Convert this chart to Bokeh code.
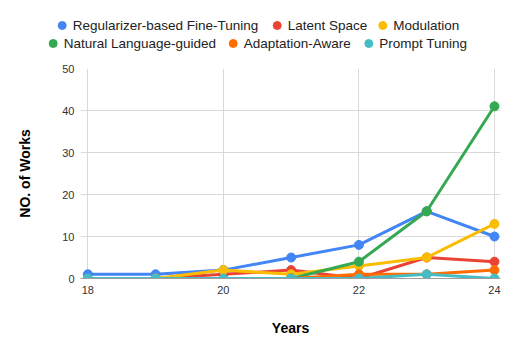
import numpy as np
from bokeh.plotting import figure
from bokeh.models import FixedTicker, Range1d
from bokeh.core.properties import value
from bokeh.layouts import column
from bokeh.embed import file_html
from bokeh.resources import INLINE

years = [18, 19, 20, 21, 22, 23, 24]
series_names = ["Regularizer-based Fine-Tuning", "Latent Space", "Modulation",
                "Natural Language-guided", "Adaptation-Aware", "Prompt Tuning"]
regularizer = [1, 1, 2, 5, 8, 16, 10]
latent = [np.nan, 0, 1, 2, 0, 5, 4]
modulation = [np.nan, 0, 2, 1, 3, 5, 13]
natural = [np.nan, np.nan, np.nan, 0, 4, 16, 41]
adaptation = [np.nan, np.nan, np.nan, 0, 1, 1, 2]
prompt = [0, 0, 0, 0, 0, 1, 0]
colors = ["#4285F4", "#EA4335", "#FBBC04", "#34A853", "#FF6D01", "#46BDC6"]
x_ticks = [18, 20, 22, 24]
y_ticks = [0, 10, 20, 30, 40, 50]

all_series = [regularizer, latent, modulation, natural, adaptation, prompt]

FONT = "Liberation Sans"

# ---- main chart ----
p = figure(width=518, height=294, output_backend="svg", toolbar_location=None,
           x_range=Range1d(17.892, 24.089), y_range=Range1d(0, 50),
           min_border_left=80, min_border_right=18, min_border_top=8,
           min_border_bottom=76)
p.outline_line_color = None
p.frame_align = False

for vals, c in zip(all_series, colors):
    p.line(years, vals, line_color=c, line_width=3)
    p.scatter(years, vals, size=9, fill_color=c, line_color=c)

p.xaxis.ticker = FixedTicker(ticks=x_ticks)
p.yaxis.ticker = FixedTicker(ticks=y_ticks)
for ax in (p.xaxis, p.yaxis):
    ax.major_tick_line_color = None
    ax.minor_tick_line_color = None
    ax.major_tick_out = 0
    ax.major_tick_in = 0
    ax.minor_tick_out = 0
    ax.major_label_text_font = FONT
    ax.major_label_text_font_size = "11px"
    ax.major_label_text_color = "#333333"
    ax.axis_label_text_font = FONT
    ax.axis_label_text_font_size = "14px"
    ax.axis_label_text_font_style = "bold"
    ax.axis_label_text_color = "#000000"
p.xaxis.axis_line_color = "#9e9e9e"
p.yaxis.axis_line_color = None
p.xaxis.major_label_standoff = 7
p.yaxis.major_label_standoff = 6
p.xaxis.axis_label = "Years"
p.yaxis.axis_label = "NO. of Works"
p.xaxis.axis_label_standoff = 23
p.yaxis.axis_label_standoff = 26

p.xgrid.ticker = FixedTicker(ticks=x_ticks)
p.ygrid.ticker = FixedTicker(ticks=y_ticks)
p.xgrid.grid_line_color = "#d9d9d9"
p.ygrid.grid_line_color = "#d9d9d9"

# ---- legend strip (pixel-like coordinates: x to the right, y downward) ----
legend_dot_x = [61.7, 276.7, 382.3, 52.7, 232.7, 368.3]
legend_row_y = [25, 25, 25, 43, 43, 43]
legend_text_gap = 10.5

lf = figure(width=518, height=60, output_backend="svg", toolbar_location=None,
            x_range=Range1d(0, 518), y_range=Range1d(60, 0),
            min_border=0, min_border_left=0, min_border_right=0,
            min_border_top=0, min_border_bottom=0)
lf.axis.visible = False
lf.grid.visible = False
lf.outline_line_color = None
lf.frame_align = False

lf.scatter(legend_dot_x, legend_row_y, size=8, fill_color=colors, line_color=colors)
lf.text([x + legend_text_gap for x in legend_dot_x], legend_row_y, text=series_names,
        text_font=value(FONT), text_font_size="13.5px", text_color="#222222",
        text_baseline="middle", text_align="left")

layout = column(lf, p, spacing=0)
open("out.html", "w").write(file_html(layout, INLINE))
